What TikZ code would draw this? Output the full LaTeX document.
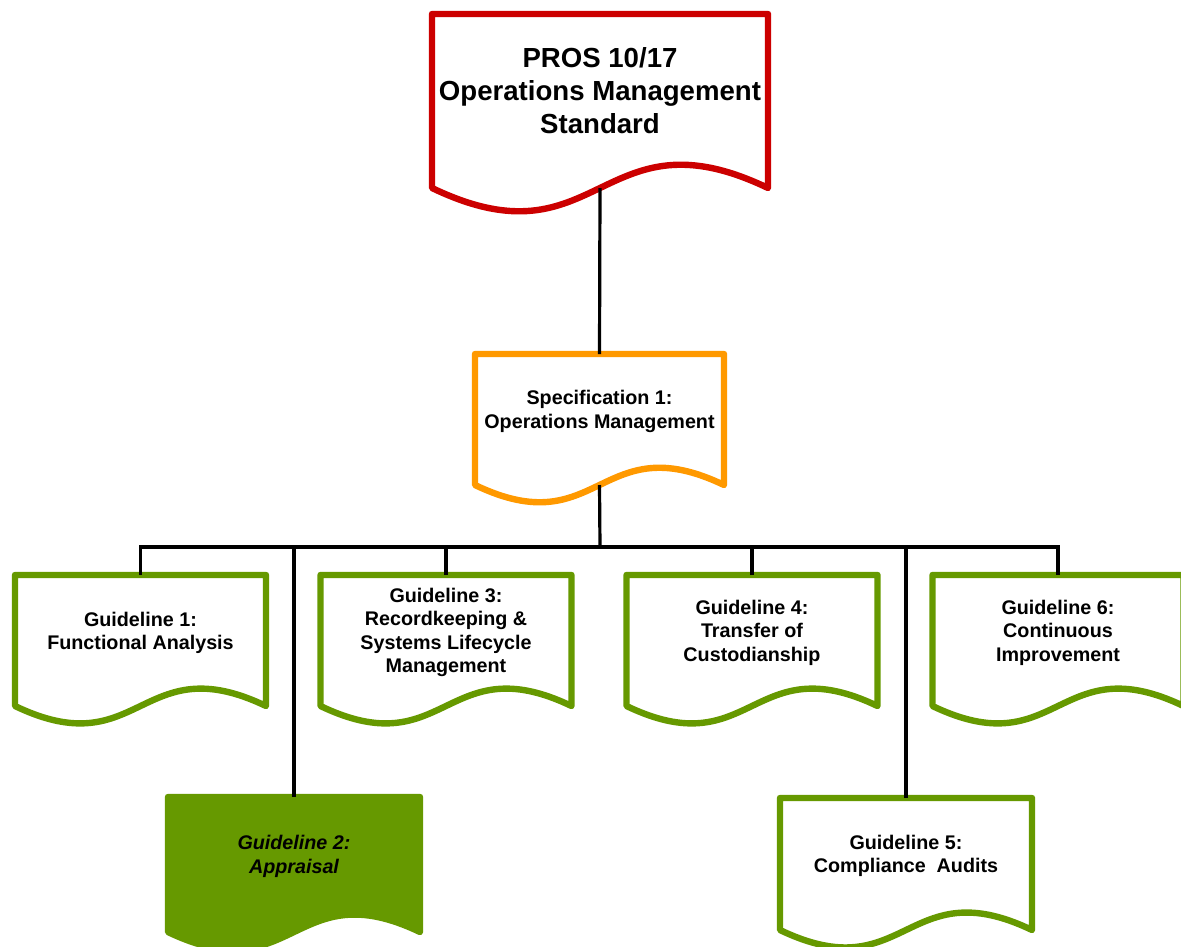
\documentclass[tikz,border=0pt]{standalone}
\usepackage{fontspec}
\setmainfont{Liberation Sans}
\usetikzlibrary{calc}
\definecolor{stdred}{RGB}{204,0,0}
\definecolor{specorange}{RGB}{255,153,0}
\definecolor{guidegreen}{RGB}{102,153,0}
\tikzset{
  frame/.style={inner sep=0pt, outer sep=0pt, draw=none, rectangle},
  docline/.style={line width=4.8pt, line join=round, fill=white},
  conn/.style={line width=2.4pt, black},
  txt/.style={align=center, text=black, font=\fontsize{14.8pt}{17.6pt}\selectfont\bfseries},
  bigtxt/.style={align=center, text=black, font=\fontsize{20.7pt}{24.75pt}\selectfont\bfseries},
}
% name, center x, top y, width, height, path style, text style, text
\newcommand{\docbox}[8]{%
  \node[frame, minimum width=#4*0.75pt, minimum height=#5*0.75pt, anchor=north] (#1) at (#2,#3) {};
  \draw[#6] (#1.north west) -- (#1.north east) -- (#1.south east)
     .. controls ($(#1.south)+(0,{-0.24*#4})$) and ($(#1.south)+(0,{0.24*#4})$) .. (#1.south west) -- cycle;
  \node[#7] (#1-t) at ($(#1.north)!0.44!(#1.south)$) {#8};
}
\begin{document}
\begin{tikzpicture}[x=0.75pt, y=-0.75pt]
\useasboundingbox (0,0) rectangle (1181,946);
\docbox{std}{600}{14}{336}{174}{docline, draw=stdred}{bigtxt}{PROS 10/17\\Operations Management\\Standard}
\docbox{spec}{599.5}{354}{249}{131}{docline, draw=specorange}{txt}{Specification 1:\\Operations Management}
\docbox{g1}{140.5}{575}{251}{131}{docline, draw=guidegreen}{txt}{Guideline 1:\\Functional Analysis}
\docbox{g3}{446}{575}{251}{131}{docline, draw=guidegreen}{txt}{Guideline 3:\\Recordkeeping \&\\Systems Lifecycle\\Management}
\docbox{g4}{752}{575}{251}{131}{docline, draw=guidegreen}{txt}{Guideline 4:\\Transfer of\\Custodianship}
\docbox{g6}{1058}{575}{251}{131}{docline, draw=guidegreen}{txt}{Guideline 6:\\Continuous\\Improvement}
\docbox{g2}{294}{797}{252}{135}{docline, draw=guidegreen, fill=guidegreen}{txt, font=\fontsize{14.8pt}{17.6pt}\selectfont\bfseries\itshape}{Guideline 2:\\Appraisal}
\docbox{g5}{906}{798}{252}{132}{docline, draw=guidegreen}{txt}{Guideline 5:\\Compliance\ \ Audits}
\coordinate (bus) at (600,547);
\draw[conn] (std.south) -- (spec.north);
\draw[conn] (spec.south) -- (bus);
\draw[conn] (g1.north) |- (bus) -| (g6.north);
\draw[conn] (g2.north) -- (g2.north |- bus);
\draw[conn] (g3.north) -- (g3.north |- bus);
\draw[conn] (g4.north) -- (g4.north |- bus);
\draw[conn] (g5.north) -- (g5.north |- bus);
\end{tikzpicture}
\end{document}
